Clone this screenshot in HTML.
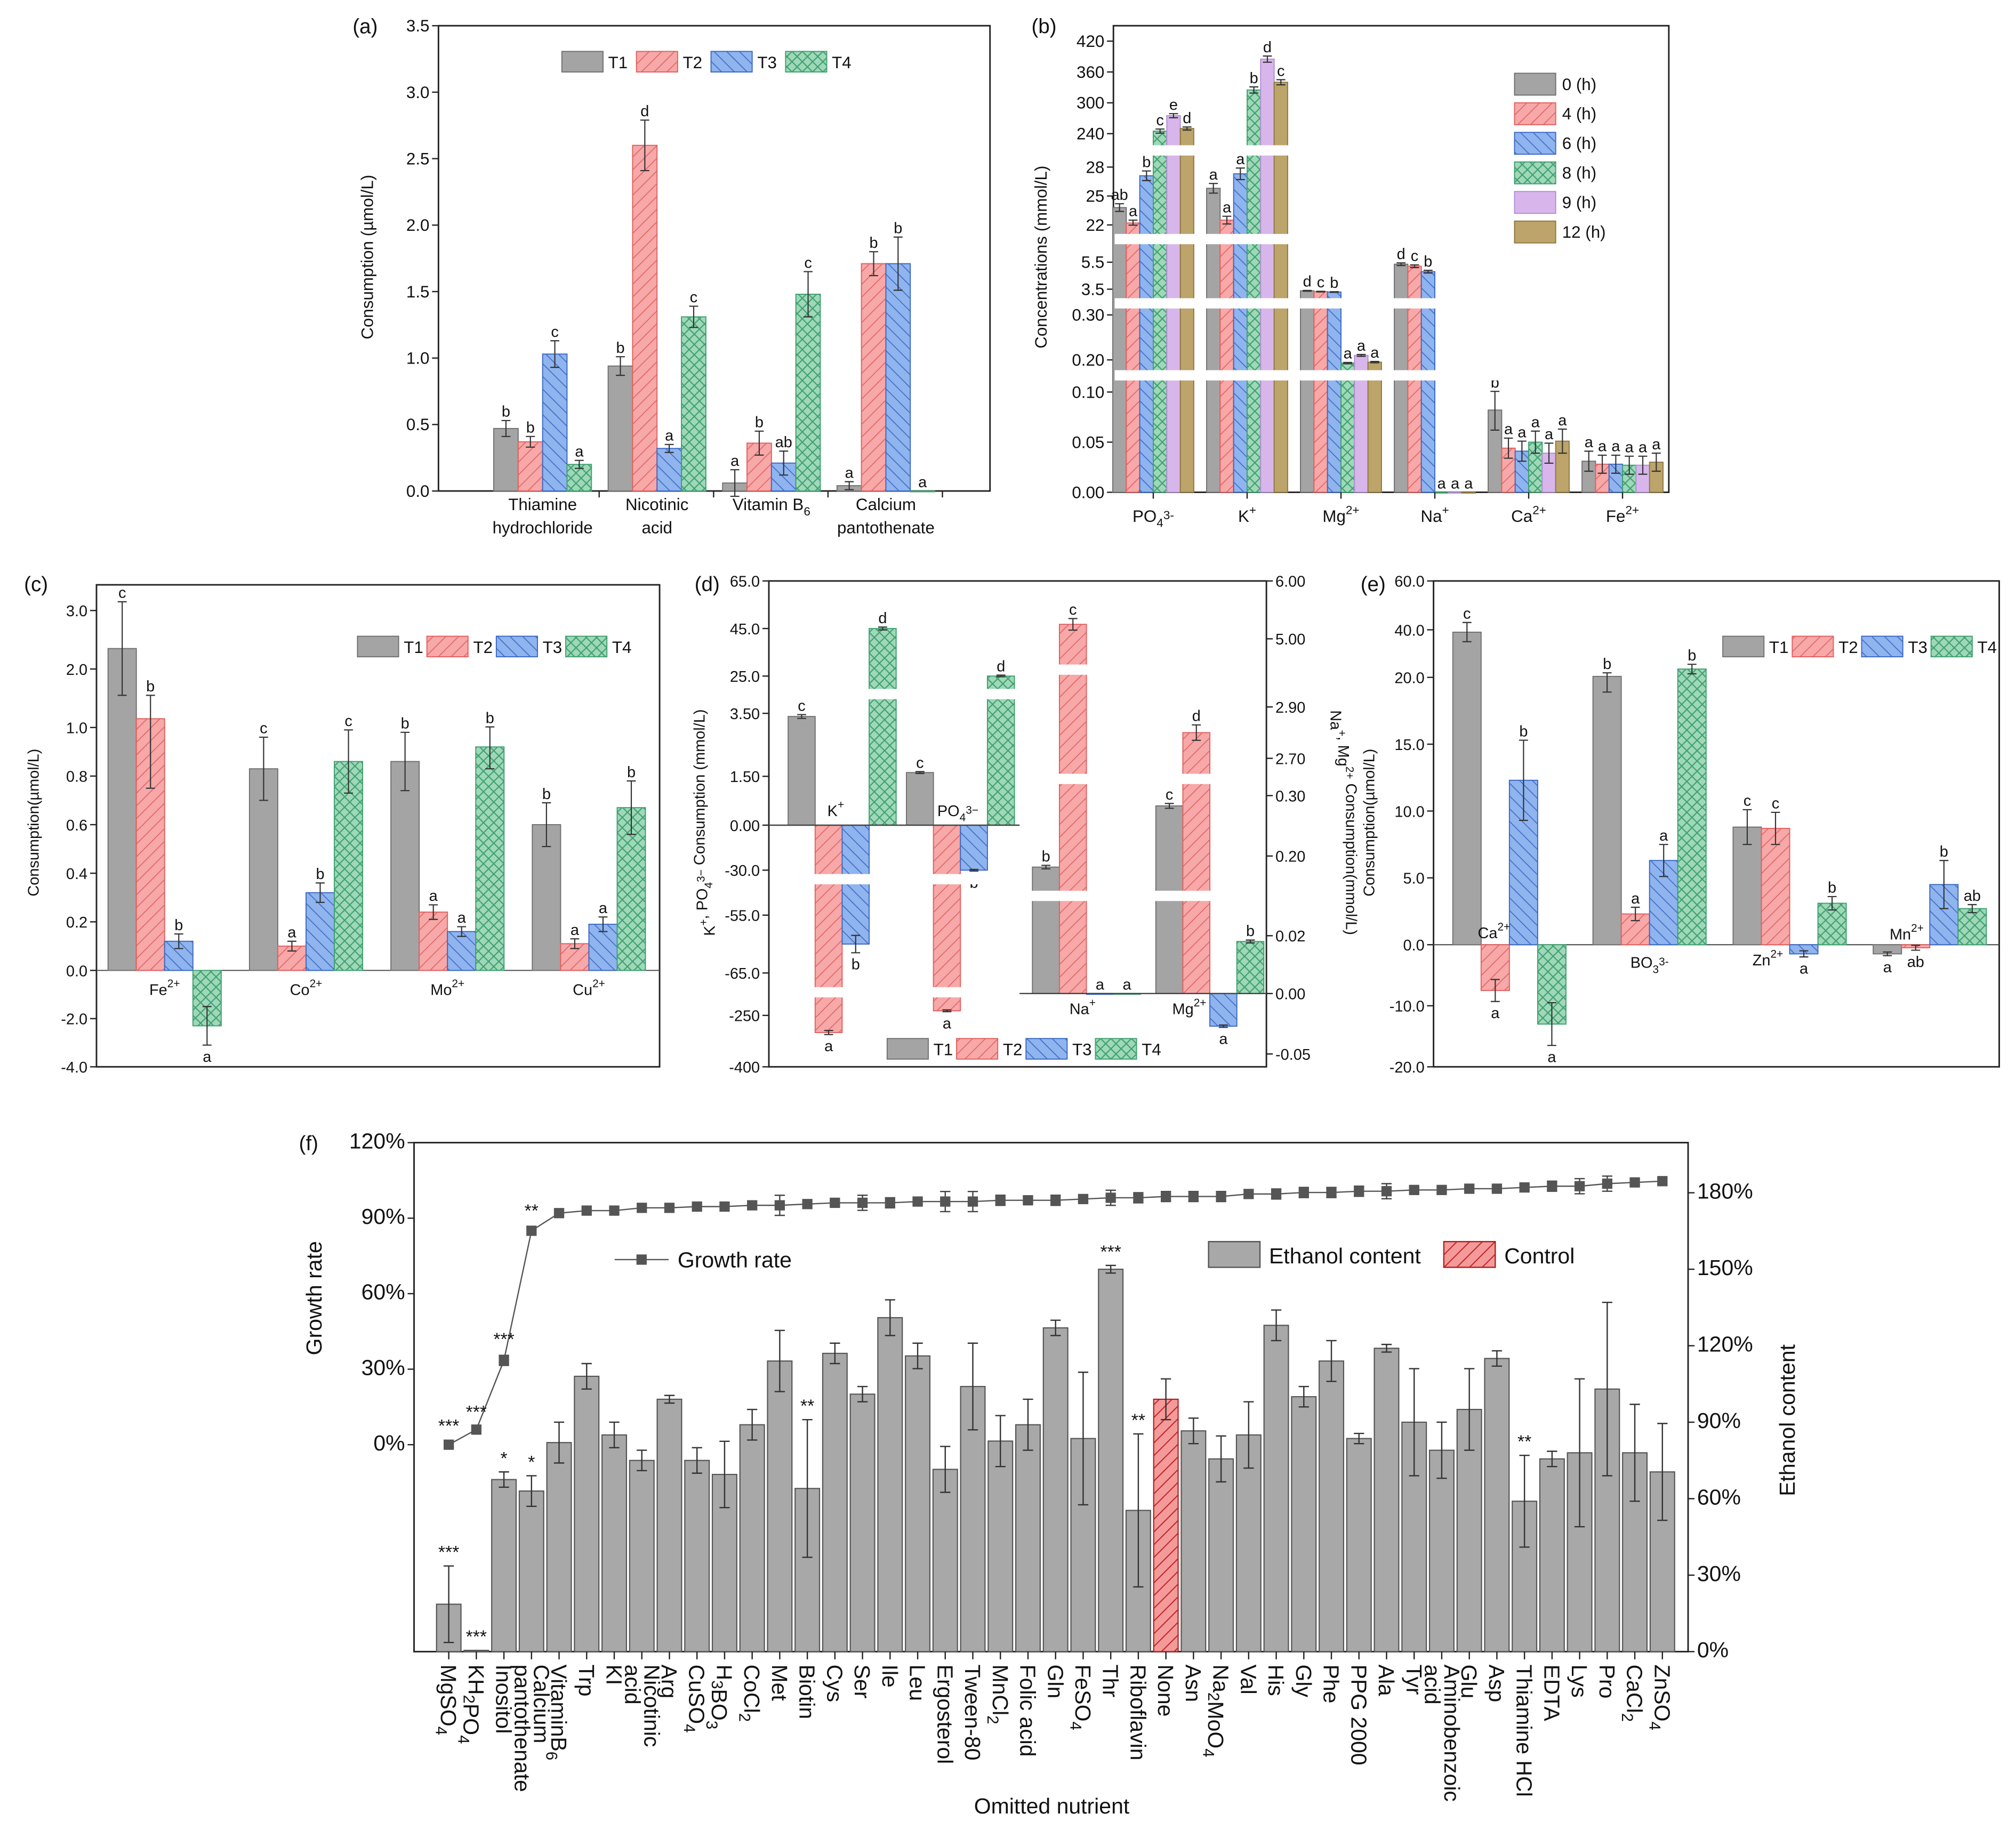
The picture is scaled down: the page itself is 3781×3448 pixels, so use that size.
<!DOCTYPE html>
<html><head><meta charset="utf-8">
<style>
html,body{margin:0;padding:0;background:#fff;}
svg{display:block;font-family:"Liberation Sans",Arial,sans-serif;}
</style></head>
<body>
<svg id="chart" xmlns="http://www.w3.org/2000/svg" width="3781" height="3448" viewBox="0 0 1568 1430">
<defs>
<pattern id="pR" patternUnits="userSpaceOnUse" width="7" height="7" patternTransform="rotate(45)"><rect width="7" height="7" fill="#f7a8a8"/><line x1="0" y1="0" x2="0" y2="7" stroke="#e26060" stroke-width="1.3"/></pattern>
<pattern id="pB" patternUnits="userSpaceOnUse" width="7" height="7" patternTransform="rotate(-45)"><rect width="7" height="7" fill="#8fb4ee"/><line x1="0" y1="0" x2="0" y2="7" stroke="#3b68c4" stroke-width="1.3"/></pattern>
<pattern id="pG" patternUnits="userSpaceOnUse" width="8" height="8"><rect width="8" height="8" fill="#9fd8b8"/><path d="M0,0L8,8M8,0L0,8" stroke="#3fa070" stroke-width="0.9"/></pattern>
<pattern id="pC" patternUnits="userSpaceOnUse" width="7" height="7" patternTransform="rotate(45)"><rect width="7" height="7" fill="#f49a9a"/><line x1="0" y1="0" x2="0" y2="7" stroke="#c02020" stroke-width="1.6"/></pattern>
</defs>
</svg>
<script>
const NS='http://www.w3.org/2000/svg';
const S=document.getElementById('chart');
function mk(tag,attrs,name,parent){
  const el=document.createElementNS(NS,tag);
  for(const k in attrs) el.setAttribute(k,attrs[k]);
  
  
  (parent||S).appendChild(el);
  return el;
}
function txt(x,y,s,size,anchor,name,extra){
  const a=Object.assign({x:x,y:y,'font-size':size,'text-anchor':anchor||'middle',fill:'#111'},extra||{});
  const el=mk('text',a,name);
  el.innerHTML=s;
  return el;
}
function pw(knots){return v=>{let i=0;while(i<knots.length-2&&v>knots[i+1][0])i++;const a=knots[i],b=knots[i+1];return a[1]+(v-a[0])*(b[1]-a[1])/(b[0]-a[0]);};}
const FILL={T1:'#a4a4a4',T2:'url(#pR)',T3:'url(#pB)',T4:'url(#pG)',h9:'#d8b6ec',h12:'#bca46a'};
const STROKE={T1:'#707070',T2:'#e06060',T3:'#3b68c4',T4:'#3fa070',h9:'#b090d0',h12:'#907840'};
const sub=s=>'<tspan font-size="72%" dy="4">'+s+'</tspan>';
const sup=s=>'<tspan font-size="72%" dy="-6">'+s+'</tspan>';

function box(x0,y0,x1,y1,name){mk('rect',{x:x0,y:y0,width:x1-x0,height:y1-y0,fill:'none',stroke:'#222','stroke-width':1.2},name);}
function yTicks(ticks,labels,ymap,x,side,size,name){
  ticks.forEach((t,i)=>{const y=ymap(t);
    mk('line',{x1:x,x2:x+(side<0?-5:5),y1:y,y2:y,stroke:'#222','stroke-width':1},name+'-tick');
    txt(x+(side<0?-7:7),y+4.5,labels[i],size,side<0?'end':'start',name+'-label');});
}
function drawBars(vals,errs,lets,keys,ymap,c0,step,bw,pname){
  const y0=ymap(0);
  vals.forEach((g,gi)=>{const cx=c0+gi*step;
    g.forEach((v,i)=>{ if(v===null) return;
      const x=cx+(i-(g.length-1)/2)*bw-bw/2, y=ymap(v);
      mk('rect',{x:x,y:Math.min(y,y0),width:bw,height:Math.max(Math.abs(y-y0),0.6),fill:FILL[keys[i]],stroke:STROKE[keys[i]],'stroke-width':0.8},pname+'-bar');
      const e=errs[gi][i]; let yt=y,yb=y;
      if(e>0){ yt=ymap(v+e); yb=ymap(v-e);
        const xm=x+bw/2;
        mk('line',{x1:xm,x2:xm,y1:yt,y2:yb,stroke:'#333','stroke-width':0.9},pname+'-error-bar');
        mk('line',{x1:xm-3.5,x2:xm+3.5,y1:yt,y2:yt,stroke:'#333','stroke-width':0.9},pname+'-error-cap');
        mk('line',{x1:xm-3.5,x2:xm+3.5,y1:yb,y2:yb,stroke:'#333','stroke-width':0.9},pname+'-error-cap');}
      const L=lets[gi][i];
      if(L){ if(v>=0) txt(x+bw/2,Math.min(yt,y)-3,L,12,'middle',pname+'-letter'); else txt(x+bw/2,Math.max(yb,y)+13,L,12,'middle',pname+'-letter'); }
    });
  });
}
function legendRow(items,x,y,gap,pname){
  let cx=x;
  items.forEach(it=>{mk('rect',{x:cx,y:y-8,width:32,height:16,fill:FILL[it],stroke:STROKE[it],'stroke-width':0.8},pname+'-legend-swatch');
    txt(cx+36,y+5,it,13,'start',pname+'-legend-label'); cx+=gap;});
}
function whiteBand(x0,x1,y,name){mk('rect',{x:x0,y:y-4,width:x1-x0,height:8,fill:'#fff'},name);}

/* ================= (a) ================= */
const aGroups=['Thiamine|hydrochloride','Nicotinic|acid','Vitamin B'+sub('6'),'Calcium|pantothenate'];
const aVals=[[0.47,0.37,1.03,0.20],[0.94,2.60,0.32,1.31],[0.06,0.36,0.21,1.48],[0.04,1.71,1.71,0]];
const aErr=[[0.06,0.04,0.10,0.03],[0.07,0.19,0.03,0.08],[0.10,0.09,0.09,0.17],[0.03,0.09,0.20,0]];
const aLet=[['b','b','c','a'],['b','d','a','c'],['a','b','ab','c'],['a','b','b','a']];
const aTicks=[0,0.5,1,1.5,2,2.5,3,3.5];
const aTickLab=['0.0','0.5','1.0','1.5','2.0','2.5','3.0','3.5'];
(function(){
  const ym=pw([[0,382],[3.5,20]]);
  box(341,20,770,382,'panel-a-frame');
  yTicks(aTicks,aTickLab,ym,341,-1,13,'panel-a-y-tick');
  drawBars(aVals,aErr,aLet,['T1','T2','T3','T4'],ym,422,89,19,'panel-a');
  aGroups.forEach((g,i)=>{const p=g.split('|');txt(422+i*89,397,p[0],13,'middle','panel-a-x-label');if(p[1])txt(422+i*89,415,p[1],13,'middle','panel-a-x-label');
    mk('line',{x1:466+i*89,x2:466+i*89,y1:382,y2:387,stroke:'#222'},'panel-a-x-tick');});
  txt(290,200,'Consumption (µmol/L)',13,'middle','panel-a-y-title',{transform:'rotate(-90 290 200)'});
  txt(284,26,'(a)',16,'middle','panel-a-tag');
  legendRow(['T1','T2','T3','T4'],437,48,58,'panel-a');
})();

/* ================= (b) ================= */
const bGroups=['PO'+sub('4')+sup('3-'),'K'+sup('+'),'Mg'+sup('2+'),'Na'+sup('+'),'Ca'+sup('2+'),'Fe'+sup('2+')];
const bVals=[[23.8,22.2,27.1,245,275,250],[25.8,22.5,27.3,325,385,340],[3.3,3.2,3.15,0.19,0.21,0.193],[5.35,5.2,4.8,0,0,0],[0.082,0.044,0.041,0.05,0.039,0.051],[0.031,0.028,0.028,0.027,0.027,0.03]];
const bErr=[[0.4,0.3,0.5,4,4,3],[0.5,0.4,0.6,6,6,5],[0.05,0.04,0.04,0.002,0.002,0.002],[0.1,0.1,0.1,0,0,0],[0.02,0.01,0.01,0.011,0.01,0.012],[0.01,0.009,0.009,0.009,0.009,0.009]];
const bLet=[['ab','a','b','c','e','d'],['a','a','a','b','d','c'],['d','c','b','a','a','a'],['d','c','b','a','a','a'],['b','a','a','a','a','a'],['a','a','a','a','a','a']];
const bTicks=[0,0.05,0.10,0.20,0.30,3.5,5.5,22,25,28,240,300,360,420];
const bTickLab=['0.00','0.05','0.10','0.20','0.30','3.5','5.5','22','25','28','240','300','360','420'];
const bSeries=['0 (h)','4 (h)','6 (h)','8 (h)','9 (h)','12 (h)'];
(function(){
  const ym=pw([[0,383],[0.10,305],[0.20,280],[0.30,245],[3.5,225],[5.5,204],[22,175],[28,130],[240,104],[420,32]]);
  box(866,20,1298,383,'panel-b-frame');
  yTicks(bTicks,bTickLab,ym,866,-1,13,'panel-b-y-tick');
  const keys=['T1','T2','T3','T4','h9','h12'];
  drawBars(bVals,bErr,bLet,keys,ym,897,73,10.5,'panel-b');
  [292,236,186,117].forEach(y=>whiteBand(867,1297,y,'panel-b-axis-break'));
  bGroups.forEach((g,i)=>{txt(897+i*73,406,g,13,'middle','panel-b-x-label');mk('line',{x1:897+i*73,x2:897+i*73,y1:383,y2:388,stroke:'#222'},'panel-b-x-tick');});
  txt(814,200,'Concentrations (mmol/L)',13,'middle','panel-b-y-title',{transform:'rotate(-90 814 200)'});
  txt(812,26,'(b)',16,'middle','panel-b-tag');
  bSeries.forEach((s,i)=>{mk('rect',{x:1178,y:57+i*23,width:32,height:17,fill:FILL[keys[i]],stroke:STROKE[keys[i]],'stroke-width':0.8},'panel-b-legend-swatch');
    txt(1215,70+i*23,s,13,'start','panel-b-legend-label');});
})();

/* ================= (c) ================= */
const cGroups=['Fe'+sup('2+'),'Co'+sup('2+'),'Mo'+sup('2+'),'Cu'+sup('2+')];
const cVals=[[2.35,1.15,0.12,-2.3],[0.83,0.1,0.32,0.86],[0.86,0.24,0.16,0.92],[0.6,0.11,0.19,0.67]];
const cErr=[[0.8,0.4,0.03,0.8],[0.13,0.02,0.04,0.13],[0.12,0.03,0.02,0.09],[0.09,0.02,0.03,0.11]];
const cLet=[['c','b','b','a'],['c','a','b','c'],['b','a','a','b'],['b','a','a','b']];
const cTicks=[-4,-2,0,0.2,0.4,0.6,0.8,1.0,2.0,3.0];
const cTickLab=['-4.0','-2.0','0.0','0.2','0.4','0.6','0.8','1.0','2.0','3.0'];
(function(){
  const ym=pw([[-4,830],[0,755],[1,566],[3,475]]);
  box(75,455,513,830,'panel-c-frame');
  yTicks(cTicks,cTickLab,ym,75,-1,12,'panel-c-y-tick');
  mk('line',{x1:75,x2:513,y1:755,y2:755,stroke:'#444','stroke-width':0.8},'panel-c-zero-line');
  drawBars(cVals,cErr,cLet,['T1','T2','T3','T4'],ym,128,110,22,'panel-c');
  cGroups.forEach((g,i)=>txt(128+i*110,774,g,12,'middle','panel-c-x-label'));
  txt(30,640,'Consumption(µmol/L)',12,'middle','panel-c-y-title',{transform:'rotate(-90 30 640)'});
  txt(28,460,'(c)',16,'middle','panel-c-tag');
  legendRow(['T1','T2','T3','T4'],278,503,54,'panel-c');
})();

/* ================= (d) ================= */
const dLeftGroups=['K'+sup('+'),'PO'+sub('4')+sup('3−')];
const dLeftVals=[[3.4,-300,-60,45],[1.62,-230,-30,25]];
const dLeftErr=[[0.06,6,1.5,0.6],[0.03,4,0.5,0.4]];
const dLeftLet=[['c','a','b','d'],['c','a','b','d']];
const dRightGroups=['Na'+sup('+'),'Mg'+sup('2+')];
const dRightVals=[[0.175,5.25,0,0],[0.283,2.8,-0.027,0.018]];
const dRightErr=[[0.004,0.1,0,0],[0.004,0.03,0.001,0.0005]];
const dRightLet=[['b','c','a','a'],['c','d','a','b']];
const dLTicks=[-400,-250,-65,-55,-30,0,1.5,3.5,25,45,65];
const dLTickLab=['-400','-250','-65.0','-55.0','-30.0','0.00','1.50','3.50','25.0','45.0','65.0'];
const dRTicks=[-0.05,0,0.02,0.2,0.3,2.7,2.9,5,6];
const dRTickLab=['-0.05','0.00','0.02','0.20','0.30','2.70','2.90','5.00','6.00'];
(function(){
  const yl=pw([[-400,830],[-250,790],[-65,757],[-55,712],[-30,677],[0,642],[1.5,604],[3.5,555],[25,526],[45,489],[65,452]]);
  const yr=pw([[-0.05,820],[0,773],[0.02,728],[0.2,666],[0.3,619],[2.7,590],[2.9,550],[5,497],[6,452]]);
  box(598,452,985,830,'panel-d-frame');
  yTicks(dLTicks,dLTickLab,yl,598,-1,12,'panel-d-left-tick');
  yTicks(dRTicks,dRTickLab,yr,985,1,12,'panel-d-right-tick');
  drawBars(dLeftVals,dLeftErr,dLeftLet,['T1','T2','T3','T4'],yl,655,92,21,'panel-d');
  drawBars(dRightVals,dRightErr,dRightLet,['T1','T2','T3','T4'],yr,845,96,21,'panel-d');
  [540,684,772].forEach(y=>whiteBand(600,792,y,'panel-d-left-break'));
  [521,606,697].forEach(y=>whiteBand(795,983,y,'panel-d-right-break'));
  mk('line',{x1:598,x2:793,y1:642,y2:642,stroke:'#444','stroke-width':1},'panel-d-left-zero');
  mk('line',{x1:793,x2:985,y1:773,y2:773,stroke:'#444','stroke-width':1},'panel-d-right-zero');
  txt(650,635,dLeftGroups[0],12,'middle','panel-d-x-label');
  txt(745,635,dLeftGroups[1],12,'middle','panel-d-x-label');
  txt(842,789,dRightGroups[0],12,'middle','panel-d-x-label');
  txt(925,789,dRightGroups[1],12,'middle','panel-d-x-label');
  txt(556,640,'K'+sup('+')+', PO'+sub('4')+sup('3−')+' Consumption (mmol/L)',12,'middle','panel-d-left-title',{transform:'rotate(-90 556 640)'});
  txt(1035,640,'Na'+sup('+')+', Mg'+sup('2+')+' Consumption(mmol/L)',12,'middle','panel-d-right-title',{transform:'rotate(90 1035 640)'});
  txt(550,460,'(d)',16,'middle','panel-d-tag');
  legendRow(['T1','T2','T3','T4'],690,816,54,'panel-d');
})();

/* ================= (e) ================= */
const eGroups=['Ca'+sup('2+'),'BO'+sub('3')+sup('3-'),'Zn'+sup('2+'),'Mn'+sup('2+')];
const eVals=[[39,-7.5,12.3,-13],[20.4,2.3,6.3,23.5],[8.8,8.7,-1.5,3.1],[-1.5,-0.5,4.5,2.7]];
const eErr=[[4,1.8,3,3.5],[1.5,0.5,1.2,2],[1.3,1.2,0.5,0.5],[0.3,0.4,1.8,0.3]];
const eLet=[['c','a','b','a'],['b','a','a','b'],['c','c','a','b'],['a','ab','b','ab']];
const eTicks=[-20,-10,0,5,10,15,20,40,60];
const eTickLab=['-20.0','-10.0','0.0','5.0','10.0','15.0','20.0','40.0','60.0'];
(function(){
  const ym=pw([[-20,830],[0,735],[20,527],[40,490],[60,452]]);
  box(1115,452,1555,830,'panel-e-frame');
  yTicks(eTicks,eTickLab,ym,1115,-1,12,'panel-e-y-tick');
  mk('line',{x1:1115,x2:1555,y1:735,y2:735,stroke:'#444','stroke-width':0.8},'panel-e-zero-line');
  drawBars(eVals,eErr,eLet,['T1','T2','T3','T4'],ym,1174,109,22,'panel-e');
  txt(1162,730,eGroups[0],12,'middle','panel-e-x-label');
  txt(1283,753,eGroups[1],12,'middle','panel-e-x-label');
  txt(1375,751,eGroups[2],12,'middle','panel-e-x-label');
  txt(1483,731,eGroups[3],12,'middle','panel-e-x-label');
  txt(1069,640,'Consumption(µmol/L)',12,'middle','panel-e-y-title',{transform:'rotate(-90 1069 640)'});
  txt(1068,460,'(e)',16,'middle','panel-e-tag');
  legendRow(['T1','T2','T3','T4'],1340,503,54,'panel-e');
})();

/* ================= (f) ================= */
const fCats=['MgSO'+sub('4'),'KH'+sub('2')+'PO'+sub('4'),'Inositol','Calcium|pantothenate','VitaminB'+sub('6'),'Trp','KI','Nicotinic|acid','Arg','CuSO'+sub('4'),'H'+sub('3')+'BO'+sub('3'),'CoCl'+sub('2'),'Met','Biotin','Cys','Ser','Ile','Leu','Ergosterol','Tween-80','MnCl'+sub('2'),'Folic acid','Gln','FeSO'+sub('4'),'Thr','Riboflavin','None','Asn','Na'+sub('2')+'MoO'+sub('4'),'Val','His','Gly','Phe','PPG 2000','Ala','Tyr','Aminobenzoic|acid','Glu','Asp','Thiamine HCl','EDTA','Lys','Pro','CaCl'+sub('2'),'ZnSO'+sub('4')];
const fEthanol=[18.6,0.5,67.5,63,82,108,85,75,99,75,69.5,89,114,64,117,101,131,116,71.5,104,82.6,89,127,83.6,150,55.4,99,86.6,75.6,85,128,100,114,83.6,119,90,79,95,115,59,75.6,78,103,78,70.5];
const fEthErr=[15,0,3,6,8,5,5,4,1.5,5,13,6,12,27,4,3,7,5,9,17,10,10,3,26,1.5,30,8,5,9,13,6,4,8,2,1.5,21,11,16,3,18,3,29,34,19,19];
const fGrowth=[0,6,33.5,85,92,93,93,94.1,94.1,94.6,94.6,95.1,95.1,95.6,96.1,96.1,96.1,96.6,96.6,96.6,97.1,97.1,97.1,97.6,98.1,98.1,98.6,98.6,98.6,99.6,99.6,100.2,100.2,100.7,100.7,101.2,101.2,101.7,101.7,102.2,102.7,102.7,103.7,104.2,104.7];
const fGrowthErr=[1,0.5,2,1.5,0.5,0.5,0.5,0.5,0.5,0.5,0.5,0.5,4,0.5,1,3,2,1,4,4,2,1,2,1,3,2,2,2,2,1.5,2,2,2,2,3,1,1,0.5,1,1,2,3,3,1,1];
const fStarBar=['***','***','*','*','','','','','','','','','','**','','','','','','','','','','','***','**','','','','','','','','','','','','','','**','','','','',''];
const fStarGrowth=['***','***','***','**','','','','','','','','','','','','','','','','','','','','','','','','','','','','','','','','','','','','','','','','',''];
const fLTicks=[0,30,60,90,120];
const fLTickLab=['0%','30%','60%','90%','120%'];
const fRTicks=[0,30,60,90,120,150,180];
const fRTickLab=['0%','30%','60%','90%','120%','150%','180%'];
(function(){
  const yl=pw([[0,1124],[120,889]]);
  const yr=pw([[0,1285],[180,928]]);
  const x0=349, step=(1293-349)/(fCats.length-1);
  const xs=i=>x0+i*step;
  box(322,889,1313,1285,'panel-f-frame');
  yTicks(fLTicks,fLTickLab,yl,322,-1,17,'panel-f-left-tick');
  yTicks(fRTicks,fRTickLab,yr,1313,1,17,'panel-f-right-tick');
  const bw=19;
  fEthanol.forEach((v,i)=>{const x=xs(i)-bw/2,y=yr(v),ctrl=fCats[i]==='None';
    mk('rect',{x:x,y:y,width:bw,height:yr(0)-y,fill:ctrl?'url(#pC)':'#a8a8a8',stroke:ctrl?'#b02020':'#555','stroke-width':0.9},ctrl?'control-bar':'ethanol-bar');
    const e=fEthErr[i];
    if(e>0){const yt=yr(v+e),yb=yr(Math.max(v-e,0)),xm=xs(i);
      mk('line',{x1:xm,x2:xm,y1:yt,y2:yb,stroke:'#333','stroke-width':1},'ethanol-error-bar');
      mk('line',{x1:xm-4,x2:xm+4,y1:yt,y2:yt,stroke:'#333','stroke-width':1},'ethanol-error-cap');
      mk('line',{x1:xm-4,x2:xm+4,y1:yb,y2:yb,stroke:'#333','stroke-width':1},'ethanol-error-cap');}
    if(fStarBar[i]) txt(xs(i),yr(v+e)-6,fStarBar[i],14,'middle','ethanol-significance');
    mk('line',{x1:xs(i),x2:xs(i),y1:1285,y2:1291,stroke:'#222'},'panel-f-x-tick');
    const p=fCats[i].split('|');
    if(p.length===1) txt(xs(i)-6,1295,p[0],17,'start','panel-f-x-label',{transform:'rotate(90 '+(xs(i)-6)+' 1295)'});
    else{ txt(xs(i)+2,1295,p[0],17,'start','panel-f-x-label',{transform:'rotate(90 '+(xs(i)+2)+' 1295)'});
          txt(xs(i)-13,1295,p[1],17,'start','panel-f-x-label',{transform:'rotate(90 '+(xs(i)-13)+' 1295)'});}
  });
  mk('polyline',{points:fGrowth.map((g,i)=>xs(i)+','+yl(g)).join(' '),fill:'none',stroke:'#555','stroke-width':1},'growth-rate-line');
  fGrowth.forEach((g,i)=>{const e=fGrowthErr[i],xm=xs(i);
    if(e>0.6){mk('line',{x1:xm,x2:xm,y1:yl(g+e),y2:yl(g-e),stroke:'#444','stroke-width':1},'growth-error-bar');
      mk('line',{x1:xm-4,x2:xm+4,y1:yl(g+e),y2:yl(g+e),stroke:'#444','stroke-width':1},'growth-error-cap');
      mk('line',{x1:xm-4,x2:xm+4,y1:yl(g-e),y2:yl(g-e),stroke:'#444','stroke-width':1},'growth-error-cap');}
    mk('rect',{x:xm-4,y:yl(g)-4,width:8,height:8,fill:'#555'},'growth-rate-point');
    if(fStarGrowth[i]) txt(xm,yl(g+e)-8,fStarGrowth[i],14,'middle','growth-significance');
  });
  txt(250,1010,'Growth rate',17,'middle','panel-f-left-title',{transform:'rotate(-90 250 1010)'});
  txt(1396,1105,'Ethanol content',17,'middle','panel-f-right-title',{transform:'rotate(-90 1396 1105)'});
  txt(818,1411,'Omitted nutrient',17,'middle','panel-f-x-title');
  txt(240,895,'(f)',16,'middle','panel-f-tag');
  mk('line',{x1:478,x2:520,y1:980,y2:980,stroke:'#555','stroke-width':1},'legend-growth-line');
  mk('rect',{x:495,y:976,width:8,height:8,fill:'#555'},'legend-growth-marker');
  txt(527,986,'Growth rate',17,'start','legend-growth-label');
  mk('rect',{x:940,y:966,width:40,height:20,fill:'#a8a8a8',stroke:'#555'},'legend-ethanol-swatch');
  txt(987,983,'Ethanol content',17,'start','legend-ethanol-label');
  mk('rect',{x:1123,y:966,width:40,height:20,fill:'url(#pC)',stroke:'#b02020'},'legend-control-swatch');
  txt(1170,983,'Control',17,'start','legend-control-label');
})();
</script>
</body></html>
